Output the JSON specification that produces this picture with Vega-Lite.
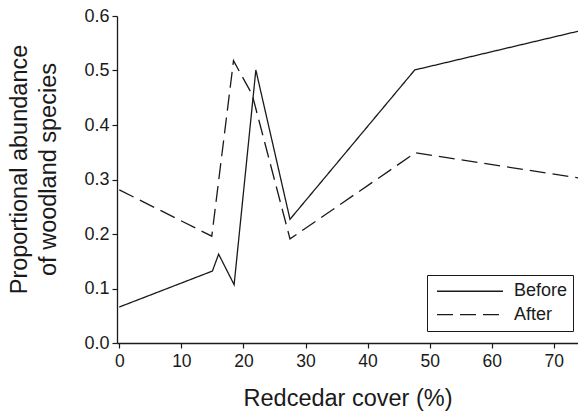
{
  "$schema": "https://vega.github.io/schema/vega-lite/v6.json",
  "width": 461,
  "height": 327,
  "autosize": "none",
  "padding": {"left": 117, "top": 16, "right": 0, "bottom": 68},
  "background": "white",
  "config": {
    "view": {"stroke": null},
    "font": "Liberation Sans",
    "axis": {
      "grid": false,
      "domainColor": "#1a1a1a",
      "domainWidth": 1.3,
      "tickColor": "#1a1a1a",
      "tickWidth": 1.2,
      "tickSize": 5,
      "labelColor": "#1a1a1a",
      "titleColor": "#1a1a1a",
      "labelFont": "Liberation Sans",
      "titleFont": "Liberation Sans",
      "titleFontWeight": "normal"
    }
  },
  "data": {
    "values": [
      {"cover": 0, "abundance": 0.066, "period": "Before"},
      {"cover": 15, "abundance": 0.132, "period": "Before"},
      {"cover": 16, "abundance": 0.163, "period": "Before"},
      {"cover": 18.5, "abundance": 0.107, "period": "Before"},
      {"cover": 22.0, "abundance": 0.501, "period": "Before"},
      {"cover": 27.5, "abundance": 0.227, "period": "Before"},
      {"cover": 47.6, "abundance": 0.501, "period": "Before"},
      {"cover": 73.9, "abundance": 0.572, "period": "Before"},
      {"cover": 0, "abundance": 0.281, "period": "After"},
      {"cover": 14.9, "abundance": 0.196, "period": "After"},
      {"cover": 18.4, "abundance": 0.518, "period": "After"},
      {"cover": 21.4, "abundance": 0.456, "period": "After"},
      {"cover": 27.5, "abundance": 0.191, "period": "After"},
      {"cover": 47.7, "abundance": 0.349, "period": "After"},
      {"cover": 73.9, "abundance": 0.303, "period": "After"}
    ]
  },
  "mark": {"type": "line", "color": "#1a1a1a", "strokeWidth": 1.3, "clip": true},
  "encoding": {
    "x": {
      "field": "cover",
      "type": "quantitative",
      "scale": {"domain": [-0.37, 73.9], "nice": false, "zero": false},
      "axis": {
        "title": "Redcedar cover (%)",
        "values": [0, 10, 20, 30, 40, 50, 60, 70],
        "labelFontSize": 17.5,
        "labelPadding": 4,
        "titleFontSize": 23.5,
        "titlePadding": 17
      }
    },
    "y": {
      "field": "abundance",
      "type": "quantitative",
      "scale": {"domain": [0, 0.6], "nice": false},
      "axis": {
        "title": ["Proportional abundance", "of woodland species"],
        "values": [0, 0.1, 0.2, 0.3, 0.4, 0.5, 0.6],
        "format": ".1f",
        "labelFontSize": 18,
        "labelPadding": 3,
        "titleFontSize": 23.5,
        "titleLineHeight": 29,
        "titleBaseline": "middle",
        "titleX": -98,
        "titleY": 153
      }
    },
    "strokeDash": {
      "field": "period",
      "type": "nominal",
      "sort": ["Before", "After"],
      "scale": {"domain": ["Before", "After"], "range": [[1, 0], [16, 7]]},
      "legend": {
        "title": null,
        "orient": "none",
        "legendX": 310,
        "legendY": 259,
        "symbolType": "stroke",
        "symbolSize": 4356,
        "symbolStrokeColor": "#1a1a1a",
        "symbolStrokeWidth": 1.3,
        "clipHeight": 22.5,
        "rowPadding": 0.4,
        "padding": 5,
        "symbolOffset": 4,
        "labelOffset": 10,
        "labelFontSize": 18,
        "labelColor": "#1a1a1a",
        "labelFont": "Liberation Sans",
        "labelExpr": "datum.label + '      '",
        "strokeColor": "#1a1a1a",
        "fillColor": "white"
      }
    }
  }
}
